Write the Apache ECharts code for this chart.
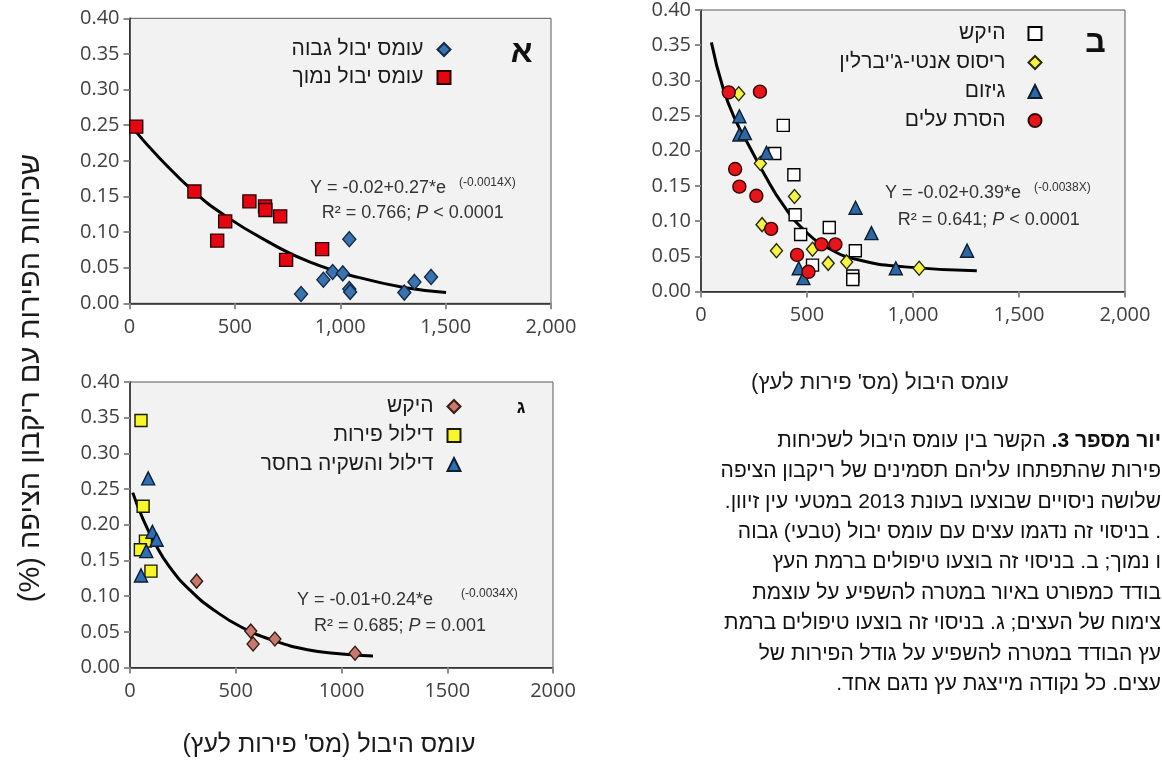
<!DOCTYPE html>
<html>
<head>
<meta charset="utf-8">
<script src="https://cdn.jsdelivr.net/npm/echarts@6/dist/echarts.min.js"></script>
<style>
html,body{margin:0;padding:0;background:#fff}
#chart{width:1162px;height:761px}
</style>
</head>
<body>
<div id="chart"></div>
<script>
// hebrew strings get an RLM on both sides so canvas bidi keeps dots/brackets in place
var RLM = '\u200F';
function heb(s) { return RLM + s + RLM; }

var HEB = '"Liberation Sans", "DejaVu Sans", Arial, sans-serif';
var NUM = '"Open Sans", "Liberation Sans", sans-serif';

// tick labels
var yTickLabels = ['0.00', '0.05', '0.10', '0.15', '0.20', '0.25', '0.30', '0.35', '0.40'];
var xTickLabelsComma = ['0', '500', '1,000', '1,500', '2,000'];
var xTickLabelsPlain = ['0', '500', '1000', '1500', '2000'];

// panel A
var aHigh = [[814, 0.013], [920, 0.033], [964, 0.044], [1012, 0.042], [1043, 0.090],
             [1043, 0.020], [1047, 0.016], [1304, 0.015], [1352, 0.030], [1431, 0.037]];
var aLow = [[32, 0.248], [308, 0.157], [454, 0.115], [416, 0.088], [569, 0.143],
            [643, 0.136], [645, 0.131], [715, 0.122], [743, 0.061], [914, 0.076]];
var aFit = [[24, 0.243], [142, 0.204], [308, 0.156], [458, 0.122], [648, 0.088],
            [854, 0.058], [1091, 0.036], [1328, 0.021], [1502, 0.015]];

// panel B
var bControl = [[388, 0.236], [348, 0.196], [438, 0.166], [444, 0.109], [470, 0.081],
                [605, 0.091], [728, 0.058], [526, 0.0375], [716, 0.022], [716, 0.017]];
var bSpray = [[178, 0.281], [280, 0.182], [441, 0.135], [288, 0.095], [356, 0.058],
              [526, 0.060], [600, 0.040], [687, 0.042], [1029, 0.033]];
var bPrune = [[181, 0.249], [181, 0.223], [207, 0.225], [309, 0.197], [461, 0.033],
              [483, 0.019], [729, 0.119], [804, 0.083], [919, 0.033], [1255, 0.058]];
var bLeaf = [[131, 0.283], [278, 0.284], [161, 0.174], [181, 0.149], [261, 0.136],
             [331, 0.089], [453, 0.052], [507, 0.028], [568, 0.067], [634, 0.067]];
var bFit = [[49, 0.354], [105, 0.288], [165, 0.242], [232, 0.204], [300, 0.166],
            [385, 0.124], [487, 0.087], [605, 0.061], [741, 0.045], [962, 0.035], [1301, 0.0295]];

// panel C
var cControl = [[315, 0.121], [571, 0.051], [582, 0.033], [685, 0.040], [1064, 0.020]];
var cThin = [[52, 0.346], [62, 0.226], [73, 0.177], [49, 0.165], [99, 0.135]];
var cThinDry = [[86, 0.265], [106, 0.190], [126, 0.179], [77, 0.163], [52, 0.129]];
var cFit = [[13, 0.245], [57, 0.211], [114, 0.176], [187, 0.141], [285, 0.108], [399, 0.080],
            [530, 0.056], [676, 0.038], [839, 0.025], [1002, 0.019], [1149, 0.016]];

var nameAHigh = heb('עומס יבול גבוה');
var nameALow = heb('עומס יבול נמוך');
var nameBControl = heb('היקש');
var nameBSpray = heb("ריסוס אנטי-ג'יברלין");
var nameBPrune = heb('גיזום');
var nameBLeaf = heb('הסרת עלים');
var nameCControl = heb('היקש ');
var nameCThin = heb('דילול פירות');
var nameCThinDry = heb('דילול והשקיה בחסר');

var captionLines = [
  'פירות שהתפתחו עליהם תסמינים של ריקבון הציפה',
  'שלושה ניסויים שבוצעו בעונת 2013 במטעי עין זיוון.',
  '. בניסוי זה נדגמו עצים עם עומס יבול (טבעי) גבוה',
  'ו נמוך; ב. בניסוי זה בוצעו טיפולים ברמת העץ',
  'בודד כמפורט באיור במטרה להשפיע על עוצמת',
  'צימוח של העצים; ג. בניסוי זה בוצעו טיפולים ברמת',
  'עץ הבודד במטרה להשפיע על גודל הפירות של',
  'עצים. כל נקודה מייצגת עץ נדגם אחד.'
];

var chart = echarts.init(document.getElementById('chart'));

function xAxis(gi, labels) {
  return {
    type: 'value', gridIndex: gi, min: 0, max: 2000, interval: 500,
    axisLine: {show: true, lineStyle: {color: '#262626', width: 1.5}},
    axisTick: {show: true, length: 6, lineStyle: {color: '#8c8c8c', width: 2}},
    axisLabel: {color: '#404040', fontSize: 20, fontFamily: NUM, margin: 14,
      showMinLabel: true, showMaxLabel: true,
      formatter: function (v) { return labels[Math.round(v / 500)]; }},
    splitLine: {show: false}
  };
}
function yAxis(gi) {
  return {
    type: 'value', gridIndex: gi, min: 0, max: 0.4, interval: 0.05,
    axisLine: {show: true, lineStyle: {color: '#262626', width: 1.5}},
    axisTick: {show: true, length: 6, lineStyle: {color: '#8c8c8c', width: 2}},
    axisLabel: {color: '#404040', fontSize: 20, fontFamily: NUM, margin: 10,
      formatter: function (v) { return yTickLabels[Math.round(v / 0.05)]; }},
    splitLine: {show: false}
  };
}
function sc(name, data, symbol, size, fill, border, gi) {
  return {
    type: 'scatter', name: name, data: data, symbol: symbol, symbolSize: size,
    xAxisIndex: gi, yAxisIndex: gi, z: 3,
    itemStyle: {color: fill, borderColor: border, borderWidth: 1.4, opacity: 1},
    emphasis: {disabled: true}
  };
}
function fit(data, gi) {
  return {
    type: 'line', data: data, smooth: true, showSymbol: false, symbol: 'none',
    xAxisIndex: gi, yAxisIndex: gi, z: 2, silent: true,
    lineStyle: {color: '#000', width: 3}
  };
}
function legend(names, iconX, top, textGap, gap) {
  return {
    data: names, orient: 'vertical', right: 1162 - iconX - 6.5, top: top, padding: 0,
    itemWidth: 13, itemHeight: 13, itemGap: gap, align: 'right', selectedMode: false,
    textStyle: {fontFamily: HEB, fontSize: 21, color: '#1a1a1a', lineHeight: 21,
                padding: [0, textGap, 0, 0]}
  };
}
function txt(x, y, s, size, opts) {
  var st = {x: x, y: y, text: s, fontSize: size, fontFamily: HEB, fill: '#333',
    textAlign: 'left', textVerticalAlign: 'middle'};
  for (var k in opts) st[k] = opts[k];
  return {type: 'text', style: st, z: 10};
}

var eqRich = {i: {fontStyle: 'italic', fontSize: 18, fontFamily: HEB, fill: '#333'}};

var option = {
  backgroundColor: '#fff',
  animation: false,
  grid: [
    {left: 129.5, top: 18.3, width: 421.5, height: 285, show: true, backgroundColor: '#f2f2f2', borderColor: '#595959', borderWidth: 1},
    {left: 701, top: 7, width: 424, height: 284.5, show: true, backgroundColor: '#f2f2f2', borderColor: '#595959', borderWidth: 1},
    {left: 130, top: 382, width: 423, height: 285.5, show: true, backgroundColor: '#f2f2f2', borderColor: '#595959', borderWidth: 1}
  ],
  xAxis: [xAxis(0, xTickLabelsComma), xAxis(1, xTickLabelsComma), xAxis(2, xTickLabelsPlain)],
  yAxis: [yAxis(0), yAxis(1), yAxis(2)],
  legend: [
    legend([nameAHigh, nameALow], 445, 39, 9, 7),
    legend([nameBControl, nameBSpray, nameBPrune, nameBLeaf], 1036, 23, 18, 8),
    legend([nameCControl, nameCThin, nameCThinDry], 455, 396, 9, 8)
  ],
  series: [
    fit(aFit, 0),
    sc(nameAHigh, aHigh, 'diamond', [13, 15], '#3b73ad', '#13294a', 0),
    sc(nameALow, aLow, 'rect', 13, '#e30613', '#2b0000', 0),
    fit(bFit, 1),
    sc(nameBControl, bControl, 'rect', 12, '#ffffff', '#000000', 1),
    sc(nameBSpray, bSpray, 'diamond', [12, 14], '#f4f34a', '#2a2a00', 1),
    sc(nameBPrune, bPrune, 'triangle', 13, '#2f67a3', '#0d1e33', 1),
    sc(nameBLeaf, bLeaf, 'circle', 13, '#e3161b', '#3a0000', 1),
    fit(cFit, 2),
    sc(nameCControl, cControl, 'diamond', [12, 14], '#c57a70', '#3a1a14', 2),
    sc(nameCThin, cThin, 'rect', 12, '#f7f52e', '#1a1a00', 2),
    sc(nameCThinDry, cThinDry, 'triangle', 13, '#2f6eb2', '#0d1e33', 2)
  ],
  graphic: [
    // panel letters
    txt(521.7, 53, heb('א'), 32, {fontWeight: 'bold', fill: '#111', textAlign: 'center'}),
    txt(1095.5, 43, heb('ב'), 32, {fontWeight: 'bold', fill: '#111', textAlign: 'center'}),
    txt(521, 408, heb('ג'), 18, {fontWeight: 'bold', fill: '#111', textAlign: 'center'}),
    // equations
    txt(310, 188, 'Y = -0.02+0.27*e', 18),
    txt(459, 182.5, '(-0.0014X)', 12),
    txt(321.7, 213, 'R\u00b2 = 0.766; {i|P} < 0.0001', 18, {rich: eqRich}),
    txt(885, 193, 'Y = -0.02+0.39*e', 18),
    txt(1034, 188, '(-0.0038X)', 12),
    txt(897.7, 220, 'R\u00b2 = 0.641; {i|P} < 0.0001', 18, {rich: eqRich}),
    txt(297, 600.5, 'Y = -0.01+0.24*e', 18),
    txt(461, 594, '(-0.0034X)', 12),
    txt(314, 625.6, 'R\u00b2 = 0.685; {i|P} = 0.001', 18, {rich: eqRich}),
    // axis titles
    txt(880, 383, heb("עומס היבול (מס' פירות לעץ)"), 22, {fill: '#1a1a1a', textAlign: 'center'}),
    txt(329, 745, heb("עומס היבול (מס' פירות לעץ)"), 25, {fill: '#1a1a1a', textAlign: 'center'}),
    {type: 'text', x: 31, y: 378, rotation: Math.PI / 2, z: 10,
     style: {x: 0, y: 0, text: heb('שכיחות הפירות עם ריקבון הציפה (%)'), fontSize: 29, fontFamily: HEB,
             fill: '#1a1a1a', textAlign: 'center', textVerticalAlign: 'middle'}},
    // caption, first line has the bold part on the right
    txt(1161, 441, '{n|' + heb(' הקשר בין עומס היבול לשכיחות') + '}{b|' + heb('יור מספר 3.') + '}', 21, {
      textAlign: 'right', fill: '#111',
      rich: {n: {fontSize: 21, fontFamily: HEB, fill: '#111'},
             b: {fontSize: 21, fontFamily: HEB, fill: '#111', fontWeight: 'bold'}}})
  ]
};

captionLines.forEach(function (s, i) {
  option.graphic.push(txt(1161, 471.4 + i * 30.4, heb(s), 21, {textAlign: 'right', fill: '#111'}));
});

chart.setOption(option);
</script>
</body>
</html>
